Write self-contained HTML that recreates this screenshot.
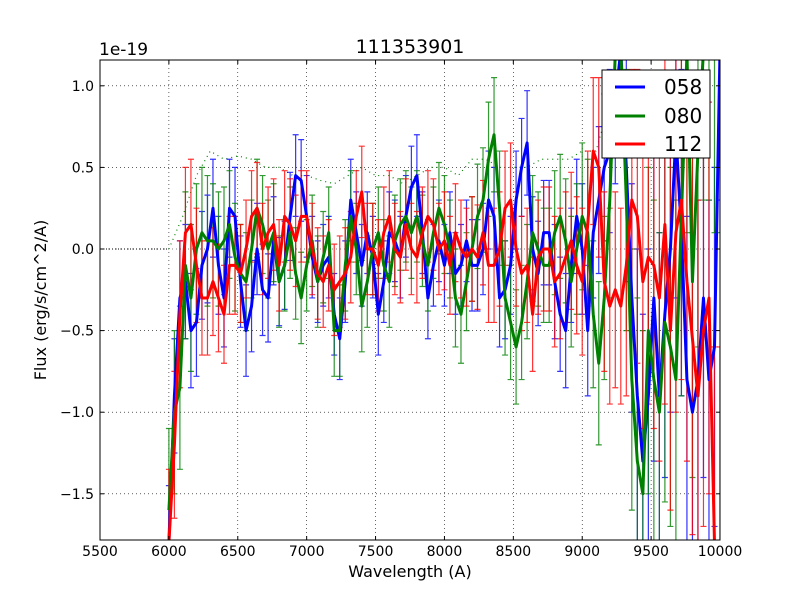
<!DOCTYPE html>
<html><head><meta charset="utf-8"><style>
html,body{margin:0;padding:0;background:#fff;width:800px;height:600px;overflow:hidden;}
svg{display:block;}
text{font-family:"DejaVu Sans","Liberation Sans",sans-serif;}
</style></head><body>
<svg id="chart" width="800" height="600" viewBox="0 0 800 600" xmlns="http://www.w3.org/2000/svg" overflow="hidden">
<rect width="800" height="600" fill="#fff"/>
<defs><clipPath id="clip"><rect x="100" y="60" width="620" height="480"/></clipPath></defs>
<g id="grid"></g>
<g id="plot" clip-path="url(#clip)"></g>
<rect x="100" y="60" width="620" height="480" fill="none" stroke="#000" stroke-width="1"/>
<g id="ticks"></g>
<text x="410" y="53" font-size="19" text-anchor="middle">111353901</text>
<text x="99" y="55" font-size="17">1e-19</text>
<text x="410" y="577" font-size="16" text-anchor="middle">Wavelength (A)</text>
<text x="46" y="300" font-size="16" text-anchor="middle" transform="rotate(-90 46 300)">Flux (erg/s/cm^2/A)</text>
<g>
<rect x="602" y="70" width="108" height="88" fill="#fff" stroke="#000" stroke-width="1"/>
<line x1="615" y1="87" x2="645" y2="87" stroke="#0000ff" stroke-width="3"/>
<text x="664" y="94" font-size="20">058</text>
<line x1="615" y1="116" x2="645" y2="116" stroke="#008000" stroke-width="3"/>
<text x="664" y="123" font-size="20">080</text>
<line x1="615" y1="144" x2="645" y2="144" stroke="#ff0000" stroke-width="3"/>
<text x="664" y="151" font-size="20">112</text>
</g>
</svg>
<script>
const xTicks=[5500,6000,6500,7000,7500,8000,8500,9000,9500,10000];
const yTicks=[-1.5,-1.0,-0.5,0.0,0.5,1.0];
const yTickLabels=["\u22121.5","\u22121.0","\u22120.5","0.0","0.5","1.0"];
const waveStart=6000, waveStep=40;
const flux058=[-1.8,-0.9,-0.3,-0.2,-0.5,-0.45,-0.1,0.0,0.25,-0.1,-0.3,0.25,0.2,-0.2,-0.5,-0.35,0.0,-0.25,-0.3,0.05,-0.2,-0.1,0.2,0.45,0.42,0.2,-0.05,-0.2,-0.1,-0.05,-0.4,-0.55,-0.2,0.3,0.1,-0.1,0.1,-0.05,-0.4,-0.2,0.1,0.05,-0.05,0.2,0.38,0.45,0.1,-0.3,-0.1,0.05,-0.1,0.1,-0.15,-0.1,0.05,-0.1,-0.1,0.0,0.3,0.2,-0.3,-0.25,-0.1,0.3,0.5,0.65,0.0,-0.15,0.1,0.1,-0.2,-0.4,-0.5,-0.1,0.2,0.0,-0.5,0.1,0.3,0.5,0.6,0.9,1.3,0.5,-0.3,-0.9,-1.3,-0.9,-0.3,-0.9,-0.4,0.0,0.7,0.1,-0.8,-1.0,-0.8,-0.3,-0.8,-0.6,1.4];
const flux080=[-1.6,-1.0,-0.85,-0.1,-0.3,0.0,0.1,0.05,0.05,0.0,0.05,0.15,-0.05,-0.15,-0.2,0.0,0.25,0.15,0.0,0.1,-0.2,-0.1,0.1,-0.15,-0.3,-0.1,0.05,-0.2,-0.05,0.1,-0.5,-0.5,-0.1,0.2,0.0,-0.35,-0.2,0.0,0.1,-0.1,-0.2,0.05,0.15,0.2,0.1,0.2,0.05,-0.1,0.1,0.25,0.15,0.0,-0.3,-0.4,-0.2,0.0,0.2,0.3,0.55,0.7,0.25,-0.3,-0.45,-0.6,-0.45,-0.2,0.1,0.0,-0.1,-0.1,0.1,0.2,0.05,-0.2,0.0,0.2,0.1,-0.4,-0.7,-0.3,0.3,1.2,1.8,0.3,-0.8,-1.3,-1.5,-0.5,-0.8,-1.0,-0.45,-0.6,-0.8,0.2,1.2,-0.2,0.6,1.5,1.5,1.3,1.3];
const flux112=[-1.8,-1.2,-0.4,0.1,0.15,-0.1,-0.3,-0.3,-0.2,-0.3,-0.4,-0.1,-0.1,-0.15,0.0,0.2,0.25,0.0,0.1,0.15,-0.1,0.2,0.15,0.05,0.2,0.2,0.0,-0.15,-0.2,-0.1,-0.25,-0.2,-0.15,-0.05,0.2,0.35,0.0,0.0,-0.1,0.1,0.2,0.0,-0.05,0.15,0.0,-0.05,0.1,0.2,0.15,0.0,0.05,-0.1,0.1,0.0,-0.05,0.0,-0.05,0.1,-0.1,-0.1,0.0,0.25,0.3,0.0,-0.15,-0.1,-0.4,-0.05,0.0,0.0,-0.2,-0.15,-0.05,0.05,-0.1,-0.2,0.15,0.6,0.5,-0.2,-0.35,-0.25,-0.35,-0.1,0.3,0.2,-0.2,-0.05,-0.1,-0.3,0.15,-0.5,0.1,0.3,-0.2,-0.55,-0.9,-0.5,-0.3,-1.8,-1.8];
const err058=[0.35,0.35,0.33,0.3,0.3,0.28,0.28,0.27,0.27,0.25,0.25,0.25,0.25,0.25,0.25,0.25,0.25,0.25,0.25,0.25,0.25,0.25,0.28,0.3,0.3,0.3,0.32,0.32,0.35,0.35,0.4,0.45,0.5,0.7,0.9,1.0,1.0,1.0,1.1,1.1,1.1];
const err080=[0.5,0.45,0.4,0.35,0.33,0.3,0.3,0.3,0.28,0.28,0.28,0.28,0.28,0.28,0.28,0.28,0.28,0.28,0.28,0.28,0.3,0.3,0.32,0.35,0.35,0.35,0.35,0.35,0.38,0.4,0.45,0.5,0.6,0.8,1.0,1.1,1.1,1.1,1.2,1.2,1.2];
const err112=[0.45,0.4,0.35,0.33,0.3,0.3,0.28,0.28,0.28,0.28,0.28,0.28,0.28,0.28,0.28,0.28,0.28,0.28,0.28,0.28,0.3,0.3,0.32,0.35,0.35,0.35,0.35,0.38,0.4,0.42,0.45,0.55,0.6,0.8,0.9,1.0,1.1,1.1,1.2,1.2,1.2];
const skyWave=[6000,6100,6200,6300,6400,6500,6600,6700,6800,6900,7000,7100,7200,7300,7400,7500,7600,7700,7800,7900,8000,8100,8200,8300,8400,8500,8600,8700,8800,8900,9000,9100,9200,9300];
const skyFlux=[0,0.2,0.45,0.6,0.55,0.57,0.55,0.5,0.5,0.45,0.45,0.42,0.4,0.45,0.5,0.45,0.45,0.4,0.45,0.5,0.5,0.45,0.55,0.55,0.5,0.5,0.5,0.55,0.55,0.55,0.6,0.6,0.9,1.2];

const X=w=>100+(w-5500)*620/4500;
const Y=v=>249-v*163.2;
const C=y=>Math.max(50,Math.min(550,y));
const NS="http://www.w3.org/2000/svg";
function mk(tag,attrs,parent){const e=document.createElementNS(NS,tag);for(const k in attrs)e.setAttribute(k,attrs[k]);parent.appendChild(e);return e;}
const grid=document.getElementById('grid'),plot=document.getElementById('plot'),ticks=document.getElementById('ticks');
xTicks.forEach(t=>{
  const g=mk('line',{x1:X(t),x2:X(t),y1:60,y2:540,stroke:'#000','stroke-width':0.6,'stroke-dasharray':'1,3'},grid);
  
  
  const a=mk('line',{x1:X(t),x2:X(t),y1:540,y2:536,stroke:'#000'},ticks);
  
  
  const b=mk('line',{x1:X(t),x2:X(t),y1:60,y2:64,stroke:'#000'},ticks);
  
  
  const l=mk('text',{x:X(t),y:556,'font-size':14,'text-anchor':'middle'},ticks);
  l.textContent=t;
  
  
});
yTicks.forEach((t,i)=>{
  const g=mk('line',{x1:100,x2:720,y1:Y(t),y2:Y(t),stroke:'#000','stroke-width':0.6,'stroke-dasharray':'1,3'},grid);
  
  
  const a=mk('line',{x1:100,x2:104,y1:Y(t),y2:Y(t),stroke:'#000'},ticks);
  
  
  const b=mk('line',{x1:716,x2:720,y1:Y(t),y2:Y(t),stroke:'#000'},ticks);
  
  
  const l=mk('text',{x:94,y:Y(t)+5,'font-size':14,'text-anchor':'end'},ticks);
  l.textContent=yTickLabels[i];
  
  
});
const zl=mk('line',{x1:X(5500),x2:X(6000),y1:Y(0),y2:Y(0),stroke:'#000','stroke-width':1,'stroke-dasharray':'1,2'},plot);


const sky=mk('polyline',{points:skyWave.map((w,i)=>X(w)+','+C(Y(skyFlux[i]))).join(' '),fill:'none',stroke:'#008000','stroke-width':1.2,'stroke-dasharray':'1,4'},plot);


const series=[[flux058,err058,'#0000ff','058'],[flux080,err080,'#008000','080'],[flux112,err112,'#ff0000','112']];
series.forEach(([f,e,c,n])=>{
  const g=mk('g',{},plot);
  
  
  f.forEach((v,i)=>{
    const w=waveStart+i*waveStep,x=X(w),er=e[Math.min(e.length-1,Math.floor((w-6000)/100))];
    const lo=C(Y(v-er)),hi=C(Y(v+er));
    const b=mk('path',{d:`M${x},${lo}V${hi}M${x-3},${lo}h6M${x-3},${hi}h6`,stroke:c,'stroke-width':1.2,fill:'none','stroke-opacity':0.8},g);
    
    
  });
});
series.forEach(([f,e,c,n])=>{
  const p=mk('polyline',{points:f.map((v,i)=>X(waveStart+i*waveStep)+','+C(Y(v))).join(' '),fill:'none',stroke:c,'stroke-width':3,'stroke-linejoin':'round'},plot);
  
  
});
</script>
</body></html>
